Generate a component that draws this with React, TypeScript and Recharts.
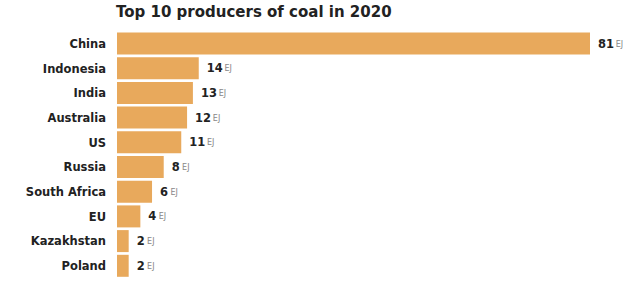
import { BarChart, Bar, XAxis, YAxis, LabelList } from 'recharts';

const countries = [
  'China', 'Indonesia', 'India', 'Australia', 'US',
  'Russia', 'South Africa', 'EU', 'Kazakhstan', 'Poland',
];
const production = [81, 14, 13, 12, 11, 8, 6, 4, 2, 2];
const unit = 'EJ';

const data = countries.map((name, i) => ({ name, value: production[i] }));

const BAR_COLOR = '#E8A95C';
const TEXT = '#222';
const FONT = '"DejaVu Sans", sans-serif';

const CountryTick = ({ x, y, payload }: any) => (
  <text
    x={x - 3}
    y={y}
    dy={4}
    textAnchor="end"
    fontFamily={FONT}
    fontSize={11.5}
    fontWeight="bold"
    fill={TEXT}
  >
    {payload.value}
  </text>
);

const ValueLabel = ({ x, y, width, height, value }: any) => {
  const lx = x + width + 8;
  const cy = y + height / 2;
  const numW = String(value).length * 7.4;
  return (
    <g>
      <text x={lx} y={cy} dy={4} fontFamily={FONT} fontSize={11.5} fontWeight="bold" fill={TEXT}>
        {value}
      </text>
      <text x={lx + numW + 3} y={cy} dy={3} fontFamily={FONT} fontSize={8} fill="#888">
        {unit}
      </text>
    </g>
  );
};

export default function App() {
  return (
    <div style={{ position: 'absolute', left: 0, top: 0, width: 641, height: 281, background: '#fff' }}>
      <div
        style={{
          position: 'absolute',
          left: 116,
          top: 3,
          fontFamily: FONT,
          fontWeight: 'bold',
          fontSize: 15,
          color: TEXT,
          whiteSpace: 'nowrap',
        }}
      >
        Top 10 producers of coal in 2020
      </div>
      <BarChart
        width={641}
        height={281}
        data={data}
        layout="vertical"
        margin={{ top: 31.5, right: 51, bottom: 2.5, left: 0 }}
      >
        <XAxis type="number" domain={[0, 81]} hide />
        <YAxis
          type="category"
          dataKey="name"
          width={117}
          axisLine={false}
          tickLine={false}
          tick={<CountryTick />}
          interval={0}
        />
        <Bar dataKey="value" fill={BAR_COLOR} barSize={22} isAnimationActive={false}>
          <LabelList dataKey="value" content={<ValueLabel />} />
        </Bar>
      </BarChart>
    </div>
  );
}
